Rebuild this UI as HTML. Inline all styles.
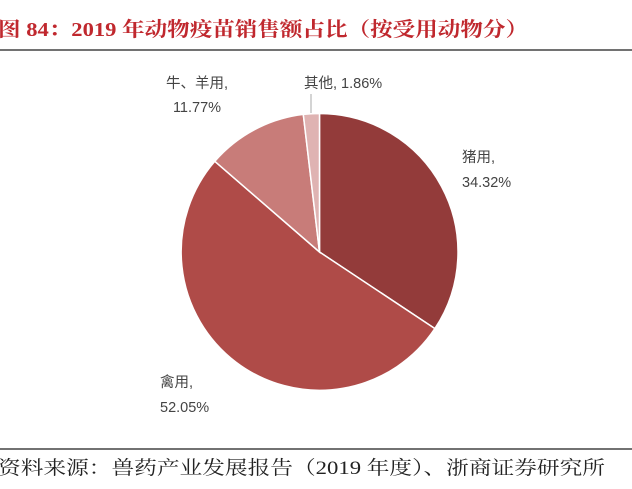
<!DOCTYPE html>
<html><head><meta charset="utf-8"><style>
body{margin:0;background:#fff;}
svg{display:block;}
</style></head><body>
<svg width="632" height="489" viewBox="0 0 632 489" xmlns="http://www.w3.org/2000/svg">
<text x="-2" y="36" textLength="530" lengthAdjust="spacingAndGlyphs" font-family="'Liberation Serif','Noto Serif CJK SC',serif" font-size="20" font-weight="bold" fill="#c0282e">图 84：2019 年动物疫苗销售额占比（按受用动物分）</text>
<line x1="0" y1="50" x2="632" y2="50" stroke="#444" stroke-width="1.5"/>
<g stroke="#fff" stroke-width="1.5">
<path d="M319.5,252 L319.5,113.5 A138.5,138.5 0 0 1 434.9,328.6 Z" fill="#933b3a"/>
<path d="M319.5,252 L434.9,328.6 A138.5,138.5 0 1 1 214.8,161.3 Z" fill="#af4b48"/>
<path d="M319.5,252 L214.8,161.3 A138.5,138.5 0 0 1 303.3,114.4 Z" fill="#c87c79"/>
<path d="M319.5,252 L303.3,114.4 A138.5,138.5 0 0 1 319.5,113.5 Z" fill="#dfb3b2"/>
</g>
<line x1="311" y1="94" x2="311" y2="113" stroke="#aaa" stroke-width="1"/>
<g font-family="'Liberation Sans','Noto Sans CJK SC',sans-serif" font-size="14.5" fill="#444">
<text x="304" y="88">其他, 1.86%</text>
<text x="197" y="88" text-anchor="middle">牛、羊用,</text>
<text x="197" y="112" text-anchor="middle">11.77%</text>
<text x="462" y="162">猪用,</text>
<text x="462" y="187">34.32%</text>
<text x="160" y="387">禽用,</text>
<text x="160" y="412">52.05%</text>
</g>
<line x1="0" y1="449" x2="632" y2="449" stroke="#444" stroke-width="1.5"/>
<text x="-2" y="474" textLength="607" lengthAdjust="spacingAndGlyphs" font-family="'Liberation Serif','Noto Serif CJK SC',serif" font-size="19" fill="#222">资料来源：兽药产业发展报告（2019 年度）、浙商证券研究所</text>
</svg>
</body></html>
